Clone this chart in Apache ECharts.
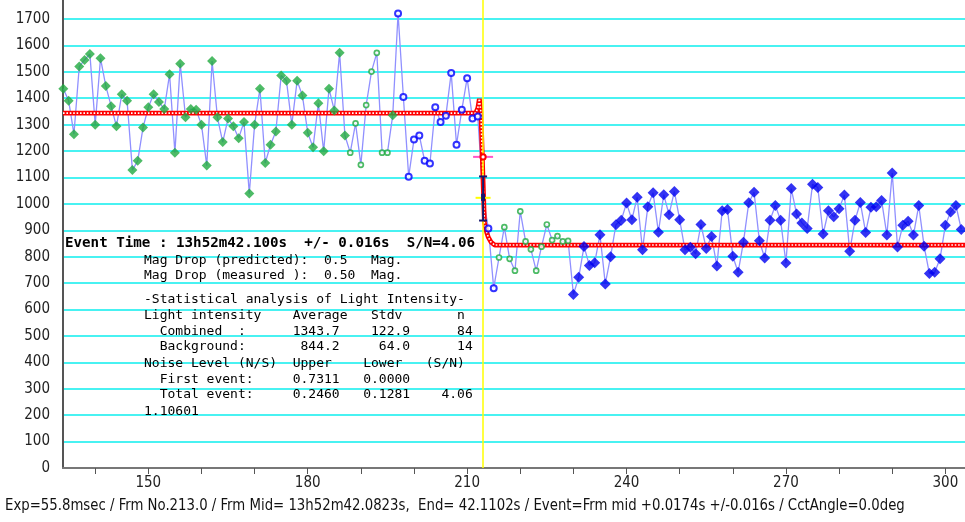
<!DOCTYPE html>
<html>
<head>
<meta charset="utf-8">
<script src="https://cdn.jsdelivr.net/npm/echarts@6.0.0/dist/echarts.min.js"></script>
<style>
html, body { margin: 0; padding: 0; background: #fff; }
#lightCurve { width: 965px; height: 522px; }
</style>
</head>
<body>
<div id="lightCurve"></div>
<script>
// 光度曲线 (frame no. vs light intensity)
var firstFrame = 134;
var flux = [
	1436, 1391, 1264, 1520, 1545, 1568, 1300, 1551, 1446, 1370,
	1294, 1415, 1391, 1128, 1163, 1289, 1366, 1415, 1386, 1359,
	1491, 1194, 1531, 1328, 1359, 1356, 1300, 1145, 1541, 1328,
	1234, 1323, 1294, 1249, 1310, 1039, 1300, 1436, 1155, 1224,
	1274, 1486, 1466, 1300, 1466, 1410, 1269, 1214, 1381, 1199,
	1436, 1354, 1572, 1259, 1194, 1305, 1148, 1374, 1501, 1572,
	1194, 1194, 1336, 1721, 1405, 1103, 1244, 1259, 1163, 1153,
	1366, 1310, 1334, 1496, 1224, 1356, 1476, 1323, 1331, 1023,
	907, 681, 797, 912, 792, 747, 972, 858, 828, 747,
	838, 922, 863, 878, 858, 860, 657, 722, 839, 767,
	777, 883, 697, 800, 921, 938, 1003, 940, 1025, 826,
	989, 1042, 893, 1035, 959, 1047, 940, 826, 836, 811,
	922, 831, 877, 765, 974, 979, 802, 741, 855, 1004,
	1044, 860, 795, 938, 994, 938, 776, 1058, 962, 928,
	907, 1074, 1062, 886, 974, 951, 982, 1034, 821, 938,
	1005, 892, 987, 989, 1013, 882, 1117, 837, 919, 934,
	882, 994, 840, 736, 741, 792, 919, 969, 994, 903
];
// G = green filled, g = green hollow, b = blue hollow, B = blue filled, x = event frame
var kinds =
	'GGGGGGGGGGGGGGGGGGGGGGGGGGGGGGGGGGGGGGGGGGGGGGGGGGGGGG' +  // 134-187
	'gggggggg' + 'G' +                                          // 188-196
	'bbbbbbbbbbbbbbbb' + 'x' + 'bb' +                           // 197-215
	'gggggggggggggg' +                                          // 216-229
	'BBBBBBBBBBBBBBBBBBBBBBBBBBBBBBBBBBBBBBBBBBBBBBBBBBBBBBBBBBBBBBBBBBBBBBBBBB'; // 230-303

// model (step) curve
var modelX = [133.94, 211.6, 212.0, 212.3, 212.6, 212.85, 213.25, 213.7, 214.0, 214.5, 215.2, 303.7];
var modelY = [1343.7, 1343.7, 1362, 1398, 1346, 1180, 929, 891, 873, 855, 844.2, 844.2];

// event marks
var eventFrame = 213;
var eventMid = 1023;
var errLow = 937;
var errHigh = 1104;
var halfLevel = 1178;

var xTicks = [140, 150, 160, 170, 180, 190, 200, 210, 220, 230, 240, 250, 260, 270, 280, 290, 300];
var xLabels = [150, 180, 210, 240, 270, 300];

var infoLines = [
	'Mag Drop (predicted):  0.5   Mag.',
	'Mag Drop (measured ):  0.50  Mag.',
	'',
	'-Statistical analysis of Light Intensity-',
	'Light intensity    Average   Stdv       n',
	'  Combined  :      1343.7    122.9      84',
	'  Background:       844.2     64.0      14',
	'Noise Level (N/S)  Upper    Lower   (S/N)',
	'  First event:     0.7311   0.0000',
	'  Total event:     0.2460   0.1281    4.06',
	'1.10601'
];
var infoY = [261.5, 277, 0, 301, 317, 332.5, 348, 364.5, 380.5, 396, 412.5];

$ready();
function $ready() {
	var myChart = echarts.init(document.getElementById('lightCurve'));

	var linePts = [], pts = {G: [], g: [], b: [], B: []};
	for (var i = 0; i < flux.length; i++) {
		var p = [firstFrame + i, flux[i]];
		linePts.push(p);
		if (pts[kinds[i]]) pts[kinds[i]].push(p);
	}
	var modelPts = modelX.map(function (x, i) { return [x, modelY[i]]; });

	var narrow = "'Liberation Sans Narrow', 'DejaVu Sans Condensed', sans-serif";
	var mono = "'DejaVu Sans Mono', 'Liberation Mono', monospace";

	var graphics = [{
		type: 'text', left: 65, top: 236, z: 100,
		style: {
			text: 'Event Time : 13h52m42.100s  +/- 0.016s  S/N=4.06',
			font: 'bold 14.2px ' + mono, fill: '#000'
		}
	}, {
		type: 'text', x: 5, y: 497, scaleX: 0.895, z: 100,
		style: {
			text: 'Exp=55.8msec / Frm No.213.0 / Frm Mid= 13h52m42.0823s,  End= 42.1102s / Event=Frm mid +0.0174s +/-0.016s / CctAngle=0.0deg',
			font: '16.5px ' + narrow, fill: '#111'
		}
	}];
	infoLines.forEach(function (t, i) {
		if (!t) return;
		graphics.push({
			type: 'text', left: 144, top: infoY[i] - 7.5, z: 100,
			style: {text: t, font: '13px ' + mono, fill: '#000'}
		});
	});

	var option = {
		animation: false,
		backgroundColor: '#fff',
		grid: {left: 63, right: 0, top: 0, bottom: 54},
		xAxis: {
			type: 'value',
			min: 133.94,
			max: 303.7,
			axisLine: {lineStyle: {color: '#777', width: 2}},
			axisTick: {show: true, customValues: xTicks, length: 6, lineStyle: {color: '#555'}},
			axisLabel: {customValues: xLabels, color: '#222', fontSize: 15, fontFamily: narrow, margin: 8},
			splitLine: {show: false}
		},
		yAxis: {
			type: 'value',
			min: 0,
			max: 1772,
			interval: 100,
			axisLine: {show: true, lineStyle: {color: '#555', width: 2}},
			axisTick: {show: false},
			axisLabel: {
				color: '#222', fontSize: 15, fontFamily: narrow, margin: 13,
				showMaxLabel: false,
				formatter: function (v) { return v % 100 === 0 ? v : ''; }
			},
			splitLine: {show: true, showMaxLine: false, lineStyle: {color: '#48f2f2', width: 2}}
		},
		series: [{
			type: 'line', data: linePts, symbol: 'none', z: 2, silent: true,
			lineStyle: {color: '#9090ff', width: 1.3},
			markLine: {
				silent: true, symbol: 'none', label: {show: false},
				lineStyle: {color: '#ffff00', width: 1.5, type: 'solid'},
				data: [{xAxis: eventFrame}]
			}
		}, {
			type: 'line', data: modelPts, symbol: 'none', z: 3,
			lineStyle: {color: '#ff0000', width: 4.8}
		}, {
			type: 'line', data: modelPts, symbol: 'none', z: 4,
			lineStyle: {color: '#ffffff', width: 1.6, type: [1.6, 1.8]}
		}, {
			type: 'scatter', data: pts.G, symbol: 'diamond', symbolSize: 10, z: 5,
			itemStyle: {color: '#20aa40'}
		}, {
			type: 'scatter', data: pts.g, symbol: 'circle', symbolSize: 5, z: 5,
			itemStyle: {color: '#fff', borderColor: '#20aa40', borderWidth: 1.7}
		}, {
			type: 'scatter', data: pts.b, symbol: 'circle', symbolSize: 6, z: 5,
			itemStyle: {color: '#fff', borderColor: '#0000ff', borderWidth: 2}
		}, {
			type: 'scatter', data: pts.B, symbol: 'diamond', symbolSize: 11, z: 5,
			itemStyle: {color: '#0000f0'}
		}, {
			type: 'custom', z: 6, silent: true,
			data: [[eventFrame, errLow, errHigh, eventMid, halfLevel]],
			renderItem: function (params, api) {
				var lo = api.coord([api.value(0), api.value(1)]);
				var hi = api.coord([api.value(0), api.value(2)]);
				var mid = api.coord([api.value(0), api.value(3)]);
				var half = api.coord([api.value(0), api.value(4)]);
				var navy = '#15156e';
				return {
					type: 'group',
					children: [
						{type: 'line', shape: {x1: lo[0], y1: lo[1], x2: hi[0], y2: hi[1]}, style: {stroke: navy, lineWidth: 2}},
						{type: 'line', shape: {x1: lo[0] - 4, y1: lo[1], x2: lo[0] + 4, y2: lo[1]}, style: {stroke: navy, lineWidth: 2}},
						{type: 'line', shape: {x1: hi[0] - 4, y1: hi[1], x2: hi[0] + 4, y2: hi[1]}, style: {stroke: navy, lineWidth: 2}},
						{type: 'line', shape: {x1: mid[0] - 7.5, y1: mid[1], x2: mid[0] + 7.5, y2: mid[1]}, style: {stroke: '#ffff00', lineWidth: 2}},
						{type: 'rect', shape: {x: mid[0] - 2, y: mid[1] - 4, width: 4, height: 7}, style: {fill: navy}},
						{type: 'line', shape: {x1: half[0] - 10, y1: half[1], x2: half[0] + 10, y2: half[1]}, style: {stroke: '#ff55c8', lineWidth: 2}},
						{type: 'circle', shape: {cx: half[0], cy: half[1], r: 2.6}, style: {fill: '#fff', stroke: '#ff0000', lineWidth: 2}}
					]
				};
			}
		}],
		graphic: graphics
	};
	myChart.clear();
	myChart.setOption(option);
}
</script>
</body>
</html>
